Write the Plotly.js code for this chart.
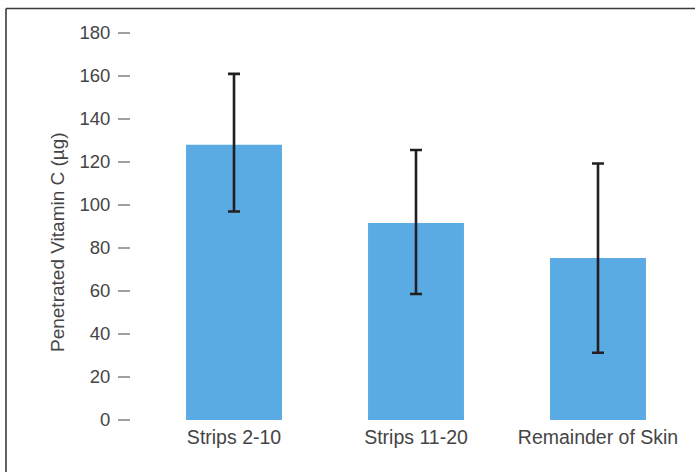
<!DOCTYPE html>
<html>
<head>
<meta charset="utf-8">
<script src="https://cdn.plot.ly/plotly-3.0.1.min.js"></script>
<style>html,body{margin:0;padding:0;background:#fff;}#chart{width:695px;height:472px;}</style>
</head>
<body>
<div id="chart"></div>
<script>
var categories = ["Strips 2-10", "Strips 11-20", "Remainder of Skin"];
var values = [128, 91.6, 75.3];
var errUpper = [33, 34, 44];
var errLower = [31, 33, 44];
var yTicks = [0, 20, 40, 60, 80, 100, 120, 140, 160, 180];
var yTitle = "Penetrated Vitamin C (\u00b5g)";

var trace = {
  type: "bar",
  x: categories,
  y: values,
  width: 0.527,
  marker: {color: "#5AABE3", line: {width: 0}},
  error_y: {
    type: "data",
    symmetric: false,
    array: errUpper,
    arrayminus: errLower,
    color: "#231f20",
    thickness: 2.6,
    width: 6
  },
  hoverinfo: "none"
};

var L = 131, R = 0, T = 33, B = 52;
var W = 695 - L - R, H = 472 - T - B;
function px(x){ return (x - L) / W; }
function py(y){ return (472 - B - y) / H; }

var layout = {
  width: 695, height: 472,
  margin: {l: L, r: R, t: T, b: B, pad: 0},
  paper_bgcolor: "#fff",
  plot_bgcolor: "#fff",
  font: {family: "Liberation Sans, Arial, sans-serif", color: "#454545", size: 18},
  showlegend: false,
  xaxis: {
    type: "category",
    range: [-0.566, 2.533],
    showgrid: false, zeroline: false, showline: false,
    ticks: "",
    ticklabelstandoff: 3,
    tickfont: {size: 19.5, color: "#454545"},
    fixedrange: true
  },
  yaxis: {
    range: [0, 180],
    tickvals: yTicks,
    ticktext: yTicks.map(String),
    showgrid: false, zeroline: false, showline: false,
    ticks: "outside", ticklen: 12, tickwidth: 1.6, tickcolor: "#a0a0a0",
    ticklabelstandoff: 4,
    tickfont: {size: 18.5, color: "#454545"},
    fixedrange: true
  },
  annotations: [
    {text: yTitle, xref: "paper", yref: "paper", x: px(57), y: py(242),
     xanchor: "center", yanchor: "middle", textangle: -90, showarrow: false,
     font: {size: 19, color: "#454545"}}
  ],
  shapes: [
    {type: "line", xref: "paper", yref: "paper", x0: px(6), x1: px(6), y0: py(8.5), y1: py(472), line: {color: "#3a3a3a", width: 1.6}},
    {type: "line", xref: "paper", yref: "paper", x0: px(6), x1: px(695), y0: py(8.5), y1: py(8.5), line: {color: "#3a3a3a", width: 1.6}}
  ]
};

Plotly.newPlot("chart", [trace], layout, {displayModeBar: false, staticPlot: true});
</script>
</body>
</html>
